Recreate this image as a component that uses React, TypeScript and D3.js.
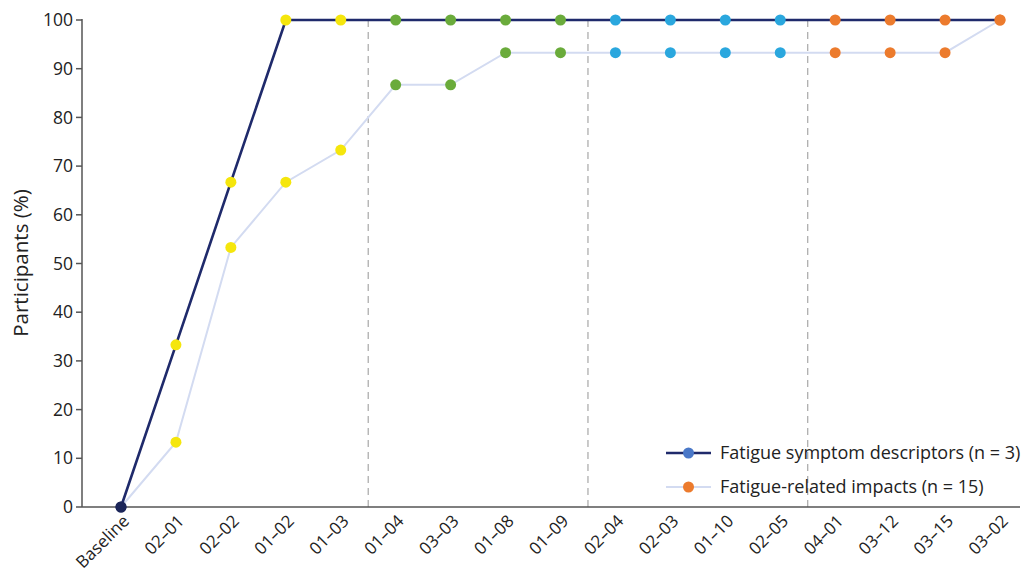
import React from "react";
import * as d3 from "d3";

const categories = ["Baseline", "02–01", "02–02", "01–02", "01–03", "01–04", "03–03", "01–08", "01–09", "02–04", "02–03", "01–10", "02–05", "04–01", "03–12", "03–15", "03–02"];
const symptomValues = [0, 33.3, 66.7, 100, 100, 100, 100, 100, 100, 100, 100, 100, 100, 100, 100, 100, 100];
const impactValues = [0, 13.3, 53.3, 66.7, 73.3, 86.7, 86.7, 93.3, 93.3, 93.3, 93.3, 93.3, 93.3, 93.3, 93.3, 93.3, 100];
const pointGroups = [0, 1, 1, 1, 1, 2, 2, 2, 2, 3, 3, 3, 3, 4, 4, 4, 4];
const groupColors = ["#1b2559", "#f5e60c", "#6aab3b", "#2aa7de", "#ec7b2d"];
const dividerAfter = [4, 8, 12];
const yTicks = [0, 10, 20, 30, 40, 50, 60, 70, 80, 90, 100];
const legendItems = [
  { label: "Fatigue symptom descriptors (n = 3)", line: "#1f2a6b", dot: "#4a78c8", width: 2.6 },
  { label: "Fatigue-related impacts (n = 15)", line: "#d3dbf1", dot: "#ec7b2d", width: 2 },
];

export default function App() {
  const W = 1026, H = 574;
  const left = 82, right = 1020, top = 20, bottom = 507;
  const x = d3.scalePoint<string>().domain(categories).range([121, 1000]);
  const y = d3.scaleLinear().domain([0, 100]).range([bottom, top]);
  const step = x.step();
  const line = d3.line<number>().x((_, i) => x(categories[i])!).y((d) => y(d));
  const font = "'Open Sans', sans-serif";

  return (
    <svg width={W} height={H} style={{ position: "absolute", left: 0, top: 0, background: "#fff" }} fontFamily={font}>
      {dividerAfter.map((i) => {
        const xx = x(categories[i])! + step / 2;
        return <line key={i} x1={xx} x2={xx} y1={top} y2={bottom} stroke="#a8a8a8" strokeWidth={1.2} strokeDasharray="7,5" />;
      })}
      {/* axes */}
      <line x1={left} x2={left} y1={top - 1} y2={bottom} stroke="#555" strokeWidth={1.5} />
      <line x1={left} x2={right} y1={bottom} y2={bottom} stroke="#555" strokeWidth={1.5} />
      {yTicks.map((t) => (
        <g key={t}>
          <line x1={left - 6} x2={left} y1={y(t)} y2={y(t)} stroke="#555" strokeWidth={1.5} />
          <text x={left - 9} y={y(t)} dy="0.35em" textAnchor="end" fontSize={17.5} fill="#222">{t}</text>
        </g>
      ))}
      {categories.map((c) => (
        <text key={c} transform={`translate(${x(c)! + 5},${bottom + 11}) rotate(-45)`} textAnchor="end" dy="0.35em" fontSize={17} fill="#222">{c}</text>
      ))}
      <text transform={`translate(28,263) rotate(-90)`} textAnchor="middle" fontSize={20.5} fill="#222">Participants (%)</text>
      {/* lines */}
      <path d={line(impactValues)!} fill="none" stroke="#d3dbf1" strokeWidth={2} />
      <path d={line(symptomValues)!} fill="none" stroke="#1f2a6b" strokeWidth={2.6} />
      {impactValues.map((v, i) => (
        <circle key={"i" + i} cx={x(categories[i])!} cy={y(v)} r={5.5} fill={groupColors[pointGroups[i]]} />
      ))}
      {symptomValues.map((v, i) => (
        <circle key={"s" + i} cx={x(categories[i])!} cy={y(v)} r={5.5} fill={groupColors[pointGroups[i]]} />
      ))}
      {/* legend */}
      {legendItems.map((d, i) => {
        const ly = 453 + i * 34;
        return (
          <g key={d.label}>
            <line x1={666} x2={711} y1={ly} y2={ly} stroke={d.line} strokeWidth={d.width} />
            <circle cx={688.5} cy={ly} r={5.5} fill={d.dot} />
            <text x={720} y={ly} dy="0.35em" fontSize={18} fill="#222">{d.label}</text>
          </g>
        );
      })}
    </svg>
  );
}
